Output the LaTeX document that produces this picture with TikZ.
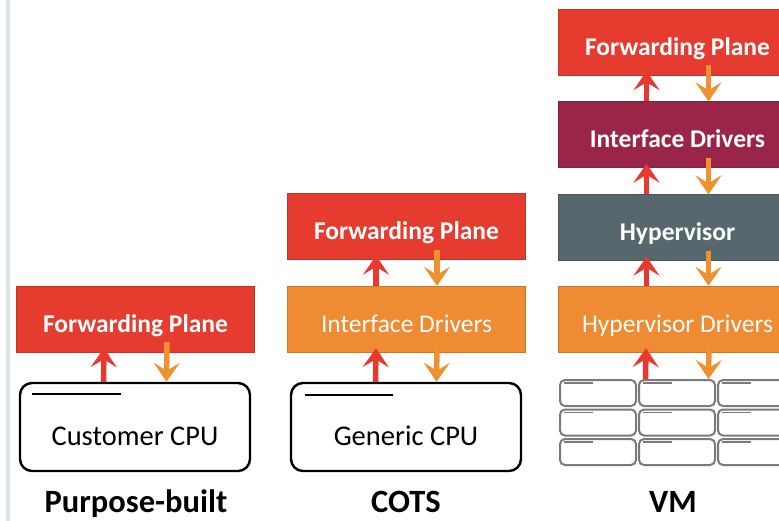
\documentclass[tikz,border=0pt]{standalone}
\usepackage{fontspec}
\setmainfont{Carlito}
\usetikzlibrary{arrows.meta}

\definecolor{fpred}{HTML}{E63C2F}
\definecolor{idorange}{HTML}{EE8B33}
\definecolor{idmaroon}{HTML}{9B2548}
\definecolor{hvslate}{HTML}{56676E}
\definecolor{uparrow}{HTML}{E8392E}
\definecolor{downarrow}{HTML}{F0912F}
\definecolor{bargray}{HTML}{DCE3E3}
\definecolor{cellgray}{HTML}{7A7A7A}

\begin{document}
\begin{tikzpicture}[x=1pt, y=-1pt,
	layer/.style={rectangle, minimum width=238pt, minimum height=66pt, inner sep=0pt, text height=32pt, text depth=5pt, text=white, font=\fontsize{25.5}{30}\selectfont\bfseries},
	plain/.style={font=\fontsize{25.5}{30}\selectfont},
	cpu/.style={rectangle, rounded corners=12pt, draw=black, line width=2.4pt, fill=white, minimum width=230pt, minimum height=88pt, inner sep=0pt, text height=42pt, text depth=6pt, font=\fontsize{28.5}{33}\selectfont},
	cell/.style={rectangle, rounded corners=5pt, draw=cellgray, line width=2pt, fill=white, minimum width=76pt, minimum height=26pt, inner sep=0pt},
	caption/.style={anchor=base, inner sep=0pt, font=\fontsize{32.5}{38}\selectfont\bfseries},
	up/.style={draw=uparrow, line width=5.5pt, -{Stealth[length=19pt, width=26pt, inset=8pt]}},
	down/.style={draw=downarrow, line width=5.5pt, -{Stealth[length=19pt, width=26pt, inset=8pt]}}]
		\clip (0,0) rectangle (779,521);
		\fill[white] (0,0) rectangle (779,521);
		\fill[bargray] (6,0) rectangle (10,521);
		
		% purpose-built
		\node[layer, fill=fpred, draw=fpred!85!black] (fp1) at (135.5,319){Forwarding Plane};
		\node[cpu] (cpu1) at (135,427){Customer CPU};
		\draw[line width=2pt] ([shift={(13,12)}]cpu1.north west) -- ++(89,0);
		\node[caption] (cap1) at (136,512){Purpose-built};
		
		\path[up] ([xshift=-31.5pt]cpu1.north) -- ([xshift=-31.5pt, yshift=4pt]fp1.south);
		\path[down] ([xshift=31.5pt, yshift=10pt]fp1.south) -- ([xshift=31.5pt]cpu1.north);
		
		% COTS
		\node[layer, fill=fpred, draw=fpred!85!black] (fp2) at (406.5,226.5){Forwarding Plane};
		\node[layer, fill=idorange, draw=idorange!85!black, plain] (id2) at (406.5,319){Interface Drivers};
		\node[cpu] (cpu2) at (406,427){Generic CPU};
		\draw[line width=2pt] ([shift={(15,13)}]cpu2.north west) -- ++(88,0);
		\node[caption] (cap2) at (406,512){COTS};
		
		\path[up] ([xshift=-30.5pt]id2.north) -- ([xshift=-30.5pt, yshift=4pt]fp2.south);
		\path[down] ([xshift=30.5pt, yshift=10pt]fp2.south) -- ([xshift=30.5pt]id2.north);
		\path[up] ([xshift=-30.5pt]cpu2.north) -- ([xshift=-30.5pt, yshift=4pt]id2.south);
		\path[down] ([xshift=30.5pt, yshift=10pt]id2.south) -- ([xshift=30.5pt]cpu2.north);
		
		% VM
		\node[layer, fill=fpred, draw=fpred!85!black] (fp3) at (677.5,42){Forwarding Plane};
		\node[layer, fill=idmaroon, draw=idmaroon!85!black] (id3) at (677.5,134.5){Interface Drivers};
		\node[layer, fill=hvslate, draw=hvslate!85!black] (hv3) at (677.5,227.5){Hypervisor};
		\node[layer, fill=idorange, draw=idorange!85!black, plain] (hd3) at (677.5,319){Hypervisor Drivers};
		\foreach \r in {0,1,2}{
			\foreach \c in {0,1,2}{
				\node[cell] (vm\r\c) at (598+79*\c, 393+29.5*\r){};
				\draw[cellgray, line width=1.5pt] ([shift={(5,4)}]vm\r\c.north west) -- ++(29,0);
			}
		}
		\node[caption] (cap3) at (673,512){VM};
		
		\path[up] ([xshift=-31pt]id3.north) -- ([xshift=-31pt, yshift=4pt]fp3.south);
		\path[down] ([xshift=31pt, yshift=10pt]fp3.south) -- ([xshift=31pt]id3.north);
		\path[up] ([xshift=-31pt]hv3.north) -- ([xshift=-31pt, yshift=4pt]id3.south);
		\path[down] ([xshift=31pt, yshift=10pt]id3.south) -- ([xshift=31pt]hv3.north);
		\path[up] ([xshift=-31pt]hd3.north) -- ([xshift=-31pt, yshift=4pt]hv3.south);
		\path[down] ([xshift=31pt, yshift=10pt]hv3.south) -- ([xshift=31pt]hd3.north);
		\path[up] ([xshift=-31.5pt]vm01.north) -- ([xshift=-31.5pt, yshift=4pt]hd3.south);
		\path[down] ([xshift=31.5pt, yshift=10pt]hd3.south) -- ([xshift=31.5pt]vm01.north);
\end{tikzpicture}
\end{document}
